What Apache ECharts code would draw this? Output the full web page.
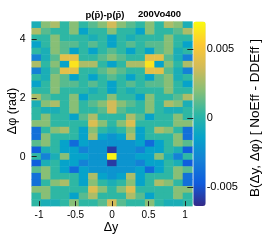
<!DOCTYPE html>
<html><head><meta charset="utf-8">
<script src="https://cdn.jsdelivr.net/npm/echarts@6/dist/echarts.min.js"></script>
<style>html,body{margin:0;padding:0;background:#fff}#c{width:266px;height:240px}</style>
</head><body><div id="c"></div>
<script>
// Δy bin centres (17 bins, -1.1 .. 1.1)
const dyBins = [-1.035,-0.906,-0.776,-0.647,-0.518,-0.388,-0.259,-0.129,0,0.129,0.259,0.388,0.518,0.647,0.776,0.906,1.035];
// Δφ bin centres (28 bins), bottom to top
const dphiBins = [-1.571,-1.346,-1.122,-0.898,-0.673,-0.449,-0.224,0,0.224,0.449,0.673,0.898,1.122,1.346,1.571,1.795,2.020,2.244,2.468,2.693,2.917,3.142,3.366,3.590,3.815,4.039,4.264,4.488];
const xTicks = [-1,-0.5,0,0.5,1];
const yTicks = [0,2,4];
const zTicks = [-0.005,0,0.005];
const zMin = -0.00636, zMax = 0.00697;

// B(Δy,Δφ) rows, read from the top (Δφ = 4.488) to the bottom (Δφ = -1.571)
const r00 = [-0.0005,0.0020,0.0028,0.0003,0.0020,0.0003,0.0011,0.0020,0.0037,0.0020,0.0011,0.0003,0.0020,0.0003,0.0028,0.0020,-0.0005];
const r01 = [0.0028,0.0011,0.0003,0.0003,0.0020,-0.0014,0.0003,0.0003,0.0020,0.0003,0.0003,-0.0014,0.0020,0.0003,0.0003,0.0011,0.0028];
const r02 = [0.0003,0.0003,0.0020,0.0003,0.0003,0.0003,-0.0005,0.0003,-0.0014,0.0003,-0.0005,0.0003,0.0003,0.0003,0.0020,0.0003,0.0003];
const r03 = [-0.0014,0.0003,0.0020,0.0011,0.0011,0.0003,0.0011,0.0003,-0.0014,0.0003,0.0011,0.0003,0.0011,0.0011,0.0020,0.0003,-0.0014];
const r04 = [0.0003,-0.0005,0.0020,0.0011,-0.0014,0.0003,-0.0014,0.0003,0.0011,0.0003,-0.0014,0.0003,-0.0014,0.0011,0.0020,-0.0005,0.0003];
const r05 = [-0.0030,-0.0005,0.0011,0.0043,0.0043,0.0003,0.0003,0.0011,0.0020,0.0011,0.0003,0.0003,0.0043,0.0043,0.0011,-0.0005,-0.0030];
const r06 = [0.0028,0.0003,0.0020,-0.0014,0.0062,0.0028,0.0028,0.0003,-0.0014,0.0003,0.0028,0.0028,0.0062,-0.0014,0.0020,0.0003,0.0028];
const r07 = [-0.0030,-0.0005,0.0011,0.0043,0.0043,0.0003,0.0003,0.0011,0.0020,0.0011,0.0003,0.0003,0.0043,0.0043,0.0011,-0.0005,-0.0030];
const r08 = [0.0003,-0.0005,0.0020,0.0011,-0.0014,0.0003,-0.0014,0.0003,0.0011,0.0003,-0.0014,0.0003,-0.0014,0.0011,0.0020,-0.0005,0.0003];
const r09 = [-0.0014,0.0003,0.0020,0.0011,0.0011,0.0003,0.0011,0.0003,-0.0014,0.0003,0.0011,0.0003,0.0011,0.0011,0.0020,0.0003,-0.0014];
const r10 = [0.0003,0.0003,0.0020,0.0003,0.0003,0.0003,-0.0005,0.0003,-0.0014,0.0003,-0.0005,0.0003,0.0003,0.0003,0.0020,0.0003,0.0003];
const r11 = [0.0028,0.0011,0.0003,0.0003,0.0020,-0.0014,0.0003,0.0003,0.0020,0.0003,0.0003,-0.0014,0.0020,0.0003,0.0003,0.0011,0.0028];
const r12 = [-0.0005,0.0020,0.0028,0.0003,0.0020,0.0003,0.0011,0.0020,0.0037,0.0020,0.0011,0.0003,0.0020,0.0003,0.0028,0.0020,-0.0005];
const r13 = [0.0003,-0.0005,-0.0005,0.0003,0.0020,0.0003,0.0003,0.0011,0.0037,0.0011,0.0003,0.0003,0.0020,0.0003,-0.0005,-0.0005,0.0003];
const r14 = [0.0003,0.0020,0.0003,0.0003,-0.0014,0.0011,0.0028,0.0003,0.0003,0.0003,0.0028,0.0011,-0.0014,0.0003,0.0003,0.0020,0.0003];
const r15 = [0.0020,0.0020,0.0003,0.0003,0.0003,0.0003,0.0040,0.0020,0.0003,0.0020,0.0040,0.0003,0.0003,0.0003,0.0003,0.0020,0.0020];
const r16 = [-0.0038,0.0003,0.0020,0.0028,0.0003,-0.0014,0.0020,0.0003,-0.0005,0.0003,0.0020,-0.0014,0.0003,0.0028,0.0020,0.0003,-0.0038];
const r17 = [-0.0038,0.0020,0.0003,0.0003,0.0003,-0.0014,0.0028,-0.0014,-0.0021,-0.0014,0.0028,-0.0014,0.0003,0.0003,0.0003,0.0020,-0.0038];
const r18 = [0.0011,0.0020,0.0003,-0.0014,-0.0040,-0.0014,-0.0021,-0.0021,-0.0021,-0.0021,-0.0021,-0.0014,-0.0040,-0.0014,0.0003,0.0020,0.0011];
const r19 = [-0.0046,-0.0005,0.0003,-0.0014,-0.0014,-0.0030,-0.0021,-0.0021,-0.0058,-0.0021,-0.0021,-0.0030,-0.0014,-0.0014,0.0003,-0.0005,-0.0046];
const r20 = [0.0003,-0.0030,-0.0005,0.0020,-0.0014,-0.0014,-0.0021,-0.0021,0.0067,-0.0021,-0.0021,-0.0014,-0.0014,0.0020,-0.0005,-0.0030,0.0003];
const r21 = [-0.0046,-0.0005,0.0003,-0.0014,-0.0014,-0.0030,-0.0021,-0.0021,-0.0058,-0.0021,-0.0021,-0.0030,-0.0014,-0.0014,0.0003,-0.0005,-0.0046];
const r22 = [0.0011,0.0020,0.0003,-0.0014,-0.0040,-0.0014,-0.0021,-0.0021,-0.0021,-0.0021,-0.0021,-0.0014,-0.0040,-0.0014,0.0003,0.0020,0.0011];
const r23 = [-0.0038,0.0020,0.0003,0.0003,0.0003,-0.0014,0.0028,-0.0014,-0.0021,-0.0014,0.0028,-0.0014,0.0003,0.0003,0.0003,0.0020,-0.0038];
const r24 = [-0.0038,0.0003,0.0020,0.0028,0.0003,-0.0014,0.0020,0.0003,-0.0005,0.0003,0.0020,-0.0014,0.0003,0.0028,0.0020,0.0003,-0.0038];
const r25 = [0.0020,0.0020,0.0003,0.0003,0.0003,0.0003,0.0040,0.0020,0.0003,0.0020,0.0040,0.0003,0.0003,0.0003,0.0003,0.0020,0.0020];
const r26 = [0.0003,0.0020,0.0003,0.0003,-0.0014,0.0011,0.0028,0.0003,0.0003,0.0003,0.0028,0.0011,-0.0014,0.0003,0.0003,0.0020,0.0003];
const r27 = [0.0003,-0.0005,-0.0005,0.0003,0.0020,0.0003,0.0003,0.0011,0.0037,0.0011,0.0003,0.0003,0.0020,0.0003,-0.0005,-0.0005,0.0003];
const rowsTopDown = [r00,r01,r02,r03,r04,r05,r06,r07,r08,r09,r10,r11,r12,r13,r14,r15,r16,r17,r18,r19,r20,r21,r22,r23,r24,r25,r26,r27];

const cells = [];
rowsTopDown.forEach((row, r) => {
  const yi = dphiBins.length - 1 - r;
  row.forEach((v, xi) => cells.push([xi, yi, v]));
});

const FONT = 'Liberation Sans, Arial, Helvetica, sans-serif';
const G = {left: 31.7, top: 21.6, width: 160.7, height: 184.5};
const CB = {left: 193.3, top: 21.6, width: 12.4, height: 184.5};
const parula = ['#352a87','#0f5cdd','#1481d6','#06a4ca','#2eb7a4','#87bf77','#d1bb59','#fec832','#f9fb0e'];

const chart = echarts.init(document.getElementById('c'), null, {renderer: 'canvas'});
chart.setOption({
  animation: false,
  backgroundColor: '#fff',
  grid: [
    {left: G.left, top: G.top, width: G.width, height: G.height, containLabel: false},
    {left: CB.left, top: CB.top, width: CB.width, height: CB.height, containLabel: false}
  ],
  xAxis: [
    {type: 'category', gridIndex: 0, data: dyBins, show: false, position: 'top'},
    {type: 'value', gridIndex: 0, min: -1.1, max: 1.1, position: 'bottom', z: 10,
     axisLine: {show: false}, splitLine: {show: false},
     axisTick: {show: true, inside: true, length: 5, customValues: xTicks, lineStyle: {color: '#222', width: 1}},
     axisLabel: {customValues: xTicks, margin: 4, fontSize: 10, color: '#000', fontFamily: FONT}},
    {type: 'value', gridIndex: 1, show: false, min: 0, max: 1}
  ],
  yAxis: [
    {type: 'category', gridIndex: 0, data: dphiBins, show: false, position: 'right'},
    {type: 'value', gridIndex: 0, min: -1.683, max: 4.600, position: 'left', z: 10,
     axisLine: {show: false}, splitLine: {show: false},
     axisTick: {show: true, inside: true, length: 5, customValues: yTicks, lineStyle: {color: '#222', width: 1}},
     axisLabel: {customValues: yTicks, margin: 6, fontSize: 10.5, color: '#000', fontFamily: FONT}},
    {type: 'value', gridIndex: 1, min: zMin, max: zMax, position: 'right', z: 10,
     axisLine: {show: false}, splitLine: {show: false},
     axisTick: {show: true, inside: true, length: 6, customValues: zTicks, lineStyle: {color: '#222', width: 1}},
     axisLabel: {customValues: zTicks, margin: 1, fontSize: 11, color: '#000', fontFamily: FONT}}
  ],
  visualMap: {
    type: 'continuous', min: zMin, max: zMax, calculable: false, orient: 'vertical',
    left: CB.left, top: CB.top, itemWidth: CB.width, itemHeight: CB.height, padding: 0,
    seriesIndex: 0, hoverLink: false, text: null, z: 5,
    inRange: {color: parula}
  },
  series: [{
    type: 'heatmap', xAxisIndex: 0, yAxisIndex: 0, data: cells,
    itemStyle: {borderWidth: 0}, emphasis: {disabled: true}, progressive: 0
  }],
  graphic: [
    {type: 'text', x: 105, y: 15, z: 20, style: {text: 'p(p\u0304)-p(p\u0304)', font: 'bold 9.5px ' + FONT, fill: '#000', align: 'center', verticalAlign: 'middle'}},
    {type: 'text', x: 138, y: 14, z: 20, style: {text: '200Vo400', font: 'bold 9.5px ' + FONT, fill: '#000', align: 'left', verticalAlign: 'middle'}},
    {type: 'text', x: 111, y: 228, z: 20, style: {text: 'Δy', font: '12.5px ' + FONT, fill: '#000', align: 'center', verticalAlign: 'middle'}},
    {type: 'text', x: 12.5, y: 111, rotation: Math.PI / 2, z: 20, style: {text: 'Δφ (rad)', font: '12.5px ' + FONT, fill: '#000', align: 'center', verticalAlign: 'middle'}},
    {type: 'text', x: 255, y: 118, rotation: Math.PI / 2, z: 20, style: {text: 'B(Δy, Δφ) [ NoEff - DDEff ]', font: '13.5px ' + FONT, fill: '#000', align: 'center', verticalAlign: 'middle'}}
  ]
});
</script></body></html>
